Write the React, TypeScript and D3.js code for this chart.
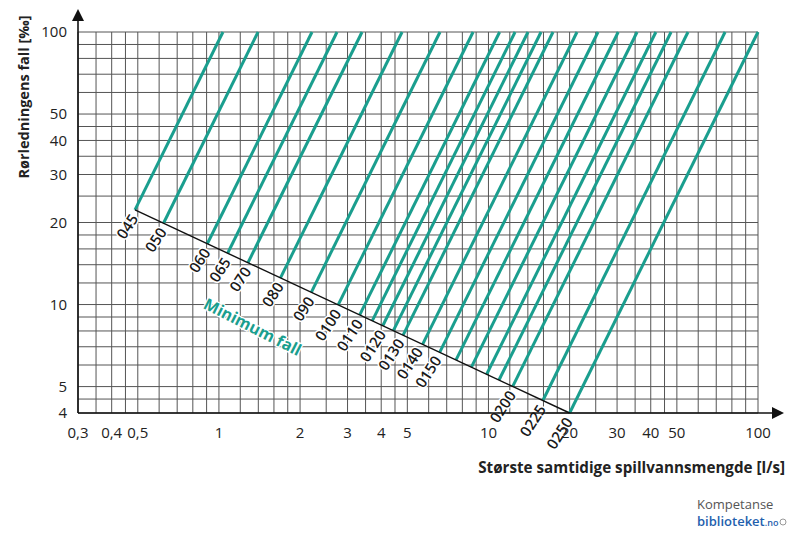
import React from "react";
import * as d3 from "d3";

// Pipe lines: flow [l/s] at 100 ‰ fall, and their labels
const pipeLabels = ["045","050","060","065","070","080","090","0100","0110","","0120","0130","0140","0150","","","","","","0200","0225","0250"];
const flowAtTopFall = [1.035,1.397,2.215,2.743,3.396,4.78,6.61,8.77,11.0,12.55,14.02,15.67,17.36,21.31,25.5,30.3,35.6,41.8,47.6,55.0,75.5,100];
const pipeSlope = 2; // fall ∝ flow²

// Minimum fall line (two points)
const minFallFlow = [0.49, 20];
const minFallValue = [22.2, 4];

const xTicks = [0.3,0.4,0.5,1,2,3,4,5,10,20,30,40,50,100];
const yTicks = [4,5,10,20,30,40,50,100];
const xGrid = [0.3,0.35,0.4,0.45,0.5,0.6,0.7,0.8,0.9,1,1.2,1.4,1.6,1.8,2,2.5,3,3.5,4,4.5,5,6,7,8,9,10,12,14,16,18,20,25,30,35,40,45,50,60,70,80,90,100];
const yGrid = [4,4.5,5,6,7,8,9,10,12,14,16,18,20,25,30,35,40,45,50,60,70,80,90,100];

const W = 800, H = 543;
const TEAL = "#1a9e8e";
const FONT = "'Open Sans', 'Noto Sans', sans-serif";

export default function App() {
  const x = d3.scaleLog().domain([0.3, 100]).range([78, 758]);
  const y = d3.scaleLog().domain([4, 100]).range([413, 32]);

  const X0 = Math.log10(minFallFlow[0]);
  const Y0 = Math.log10(minFallValue[0]);
  const s = (Math.log10(minFallValue[1]) - Y0) / (Math.log10(minFallFlow[1]) - X0);
  const topY = Math.log10(100);

  const pipes = flowAtTopFall.map((q, i) => {
    const Xt = Math.log10(q);
    const Xs = (topY - pipeSlope * Xt - Y0 + s * X0) / (s - pipeSlope);
    const Ys = topY + pipeSlope * (Xs - Xt);
    return { label: pipeLabels[i], q0: Math.pow(10, Xs), i0: Math.pow(10, Ys), q1: q, i1: 100 };
  });
  const first = pipes[0], last = pipes[pipes.length - 1];
  const fmt = (v: number) => String(v).replace(".", ",");

  const px0 = x(first.q0), py0 = y(first.i0), px1 = x(last.q0), py1 = y(last.i0);
  const lineYAt = (px: number) => py0 + (py1 - py0) * (px - px0) / (px1 - px0);
  const ang = Math.atan2(py1 - py0, px1 - px0) * 180 / Math.PI;

  // label anchors: at line start, pushed along the min-fall line to avoid overlap
  let prev = -Infinity;
  const labels = pipes.filter((p) => p.label).map((p) => {
    const ax = Math.max(x(p.q0), prev + 18.5);
    prev = ax;
    return { label: p.label, ax, ay: lineYAt(ax) + 5 };
  });

  return (
    <svg width={W} height={H} style={{ display: "block", position: "absolute", left: 0, top: 0, background: "#fff" }} fontFamily={FONT}>
      <rect width={W} height={H} fill="#fff" />
      {xGrid.map((v) => (
        <line key={"gx" + v} x1={x(v)} x2={x(v)} y1={y(4)} y2={y(100)} stroke="#555" strokeWidth={1} />
      ))}
      {yGrid.map((v) => (
        <line key={"gy" + v} x1={x(0.3)} x2={x(100)} y1={y(v)} y2={y(v)} stroke="#555" strokeWidth={1} />
      ))}
      {pipes.map((p, i) => (
        <line key={"p" + i} x1={x(p.q0)} y1={y(p.i0)} x2={x(p.q1)} y2={y(p.i1)} stroke={TEAL} strokeWidth={3} />
      ))}
      <line x1={px0} y1={py0} x2={px1} y2={py1} stroke="#111" strokeWidth={1.4} />
      {labels.map((l, i) => (
        <g key={"l" + i} transform={`translate(${l.ax},${l.ay}) rotate(-57)`}>
          <text x={-1} dy="0.35em" textAnchor="end" fontSize={15} fontWeight={600} fill="#1a1a1a" stroke="#fff" strokeWidth={3} paintOrder="stroke">{l.label}</text>
        </g>
      ))}
      <text transform={`translate(250,332) rotate(${ang + 2})`} textAnchor="middle" fontSize={16} fontWeight={700} fill={TEAL} stroke="#fff" strokeWidth={2.5} paintOrder="stroke">Minimum fall</text>

      {/* axes */}
      <line x1={x(0.3)} x2={776} y1={y(4)} y2={y(4)} stroke="#111" strokeWidth={1.6} />
      <path d={`M${784},${y(4)} L${772},${y(4) - 6} L${772},${y(4) + 6} Z`} fill="#111" />
      <line x1={x(0.3)} x2={x(0.3)} y1={y(4)} y2={17} stroke="#111" strokeWidth={1.6} />
      <path d={`M${x(0.3)},${9} L${x(0.3) - 6},${21} L${x(0.3) + 6},${21} Z`} fill="#111" />

      {xTicks.map((v) => (
        <text key={"xt" + v} x={x(v)} y={438} textAnchor="middle" fontSize={15} fill="#222">{fmt(v)}</text>
      ))}
      {yTicks.map((v) => (
        <text key={"yt" + v} x={67} y={y(v)} dy="0.35em" textAnchor="end" fontSize={15} fill="#222">{fmt(v)}</text>
      ))}

      <text transform="translate(29,97) rotate(-90)" textAnchor="middle" fontSize={14.5} fontWeight={700} fill="#222">Rørledningens fall [‰]</text>
      <text x={785} y={473} textAnchor="end" fontSize={15.2} fontWeight={700} fill="#222">Største samtidige spillvannsmengde [l/s]</text>

      {/* logo */}
      <text x={697} y={509} fontSize={13} fill="#555">Kompetanse</text>
      <text x={697} y={526} fontSize={13} fill="#1f5fae" fontWeight={600}>biblioteket<tspan fontSize={9}>.no</tspan></text>
      <circle cx={783} cy={522} r={3} fill="none" stroke="#999" strokeWidth={1} />
    </svg>
  );
}
